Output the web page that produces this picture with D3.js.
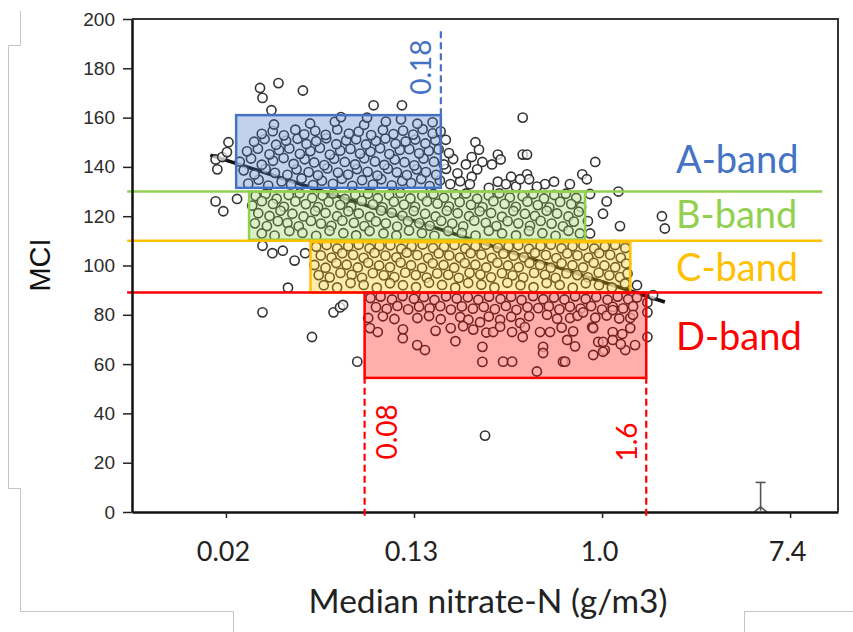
<!DOCTYPE html>
<html>
<head>
<meta charset="utf-8">
<script src="https://cdn.jsdelivr.net/npm/d3@7"></script>
<style>
  html, body { margin: 0; padding: 0; background: #fff; }
  svg { display: block; }
</style>
</head>
<body>
<svg id="chart" width="853" height="632"></svg>
<script>
// ---------------- data ----------------
const mciTicks = [0, 20, 40, 60, 80, 100, 120, 140, 160, 180, 200];
const nitrateTicks = [0.0183, 0.1353, 1.0, 7.389];
const nitrateTickLabels = ["0.02", "0.13", "1.0", "7.4"];

const bandNames = ["A-band", "B-band", "C-band", "D-band"];
const bandColors = ["#4472C4", "#92D050", "#FFC000", "#FF0000"];
// lower MCI limit of the A, B and C bands
const bandLimits = [130, 110, 89];
// extent of the bulk of sites in each band
const boxNitrateLow = [0.0204, 0.0234, 0.045, 0.08];
const boxNitrateHigh = [0.18, 0.835, 1.35, 1.6];
const boxMciLow = [131.5, 110.5, 89, 54.4];
const boxMciHigh = [161, 130, 109.5, 89];

// nitrate thresholds marked with dashed lines
const markerValues = [0.18, 0.08, 1.6];
const markerLabels = ["0.18", "0.08", "1.6"];
const markerColors = ["#4472C4", "#FF0000", "#FF0000"];
const markerMciFrom = [161, -1.5, -1.5];
const markerMciTo = [196, 54.4, 54.4];
const markerLabelMci = [180.5, 32.5, 28.4];

// fitted trend (MCI against median nitrate)
const trendNitrate = [0.0155, 1.95];
const trendMci = [144.8, 85.2];

// uncertainty bar
const errNitrate = 5.4;
const errMci = [0.5, 12];

// sites: [median nitrate-N (g/m3), MCI]
const sitesHigh = [
  [0.0232,133.2],[0.0259,134.8],[0.0287,132.4],[0.0331,134.1],[0.0366,132.9],[0.0409,135.3],[0.0462,132.6],[0.0508,134.4],[0.0571,133.1],[0.0628,135.2],[0.0702,132.3],[0.0779,134.6],[0.0874,132.8],[0.0955,135.0],[0.1068,132.5],[0.1193,134.3],[0.1312,133.4],[0.1461,135.1],[0.1597,132.2],[0.1782,134.5],[0.199,133.0],[0.221,134.2],
  [0.0221,138.6],[0.0248,136.9],[0.0279,139.2],[0.0308,137.6],[0.0352,136.8],[0.0388,139.0],[0.0441,137.9],[0.0487,136.6],[0.0538,139.4],[0.0603,137.7],[0.0671,136.9],[0.0738,139.1],[0.0826,138.0],[0.0917,136.5],[0.1024,139.3],[0.1128,137.8],[0.1254,136.7],[0.1392,139.0],[0.1536,137.9],[0.1714,136.8],[0.1903,139.2],[0.2148,137.4],
  [0.0212,142.1],[0.0239,143.4],[0.0268,140.9],[0.0302,142.5],[0.0338,143.6],[0.0376,141.2],[0.0423,143.1],[0.0468,141.8],[0.0521,140.7],[0.0579,143.3],[0.0648,142.0],[0.0723,141.0],[0.0797,143.5],[0.0893,142.2],[0.0987,140.8],[0.1102,143.0],[0.1223,141.9],[0.1358,140.6],[0.1497,143.4],[0.1672,142.1],[0.1858,141.0],[0.2052,143.2],
  [0.0229,146.3],[0.0257,147.4],[0.0291,145.1],[0.0322,146.8],[0.0359,147.5],[0.0402,145.3],[0.0449,146.4],[0.0497,147.7],[0.0553,145.0],[0.0617,146.6],[0.0688,147.3],[0.0762,145.4],[0.0851,146.2],[0.0943,147.6],[0.1041,145.2],[0.1163,146.9],[0.1287,147.2],[0.1428,145.5],[0.1583,146.5],[0.1757,147.1],[0.1962,145.6],
  [0.0247,150.2],[0.0276,151.3],[0.0312,149.0],[0.0347,150.6],[0.0392,151.4],[0.0431,149.3],[0.0478,150.4],[0.0532,151.6],[0.0592,149.2],[0.0657,150.7],[0.0731,151.2],[0.0812,149.1],[0.0902,150.5],[0.0998,151.5],[0.1112,149.4],[0.1238,150.3],[0.1371,151.1],[0.1527,149.5],[0.1698,150.8],[0.1897,151.0],
  [0.0268,153.4],[0.0301,154.5],[0.0339,152.8],[0.0383,155.1],[0.0421,153.2],[0.0473,154.6],[0.0529,153.0],[0.0598,155.2],[0.0677,153.5],[0.0751,154.3],[0.0858,152.9],[0.0972,155.0],[0.1087,153.3],[0.1204,154.7],[0.1342,153.1],[0.1483,155.3],[0.1651,153.6],[0.1795,154.4],
  [0.0305,157.2],[0.0448,157.6],[0.0583,158.3],[0.0796,157.1],[0.1003,158.4],[0.1402,157.5],[0.1648,158.1],[0.0622,160.2],[0.0821,160.0],[0.1178,159.3]
];

const sitesUpperMid = [
  [0.0251,128.2],[0.0279,129.0],[0.0314,127.1],[0.0357,128.6],[0.0401,129.3],[0.0458,127.4],[0.0512,128.4],[0.0573,129.2],[0.0648,127.0],[0.0724,128.7],[0.0829,129.1],[0.0921,127.3],[0.1038,128.5],[0.1171,129.4],[0.1302,127.2],[0.1477,128.3],[0.1663,129.0],[0.1858,127.5],[0.2104,128.8],[0.2353,129.2],[0.2647,127.1],[0.2996,128.4],[0.3352,129.3],[0.3748,127.6],[0.4296,128.1],[0.4812,129.0],[0.5393,127.2],[0.6021,128.6],[0.6804,129.1],[0.7598,127.4],
  [0.0242,124.3],[0.0268,126.1],[0.0302,125.0],[0.0339,123.8],[0.0383,126.0],[0.0428,124.9],[0.0487,123.7],[0.0546,125.8],[0.0617,124.6],[0.0693,123.9],[0.0776,126.2],[0.0874,124.8],[0.0968,123.6],[0.1092,125.9],[0.1217,124.7],[0.1368,123.8],[0.1553,126.0],[0.1738,125.1],[0.1961,123.9],[0.2198,125.7],[0.2479,124.6],[0.2803,123.7],[0.3147,126.1],[0.3546,125.0],[0.3997,123.8],[0.4518,125.9],[0.5047,124.5],[0.5703,123.6],[0.6398,125.8],[0.7204,124.9],[0.7996,123.7],
  [0.0258,121.2],[0.0291,120.1],[0.0327,122.2],[0.0371,121.0],[0.0418,119.9],[0.0473,122.1],[0.0528,121.3],[0.0597,120.0],[0.0673,122.0],[0.0752,121.1],[0.0846,119.8],[0.0953,122.3],[0.1068,121.4],[0.1196,120.2],[0.1349,122.1],[0.1522,121.0],[0.1703,119.9],[0.1918,122.2],[0.2152,121.2],[0.2431,120.0],[0.2718,122.0],[0.3072,121.3],[0.3451,119.8],[0.3893,122.1],[0.4402,121.0],[0.4897,120.1],[0.5548,122.2],[0.6197,121.1],[0.6993,119.9],[0.7801,121.8],
  [0.0249,117.1],[0.0283,116.0],[0.0318,118.0],[0.0352,117.2],[0.0397,115.9],[0.0452,118.1],[0.0503,117.0],[0.0562,116.1],[0.0631,118.2],[0.0714,117.3],[0.0798,116.0],[0.0902,117.9],[0.1003,117.1],[0.1131,115.8],[0.1268,118.0],[0.1432,117.2],[0.1601,116.1],[0.1807,118.1],[0.2032,117.0],[0.2283,115.9],[0.2568,118.2],[0.2904,117.3],[0.3251,116.0],[0.3662,118.0],[0.4103,117.1],[0.4648,116.1],[0.5202,118.1],[0.5847,117.0],[0.6598,115.9],[0.7402,117.8],
  [0.0268,113.0],[0.0307,112.1],[0.0359,114.0],[0.0413,113.2],[0.0478,112.0],[0.0551,114.1],[0.0638,113.1],[0.0731,112.2],[0.0843,114.0],[0.0978,113.0],[0.1121,112.1],[0.1283,114.2],[0.1472,113.1],[0.1681,112.0],[0.1948,114.0],[0.2251,113.2],[0.2603,112.1],[0.2998,114.1],[0.3452,113.0],[0.4003,112.2],[0.4597,114.0],[0.5302,113.1],[0.6098,112.0],[0.6997,114.1],[0.7903,113.0]
];

const sitesLowerMid = [
  [0.0478,107.6],[0.0534,108.3],[0.0598,106.9],[0.0672,107.8],[0.0751,108.4],[0.0843,107.0],[0.0938,107.9],[0.1052,108.2],[0.1181,106.8],[0.1318,107.7],[0.1483,108.5],[0.1657,107.1],[0.1862,107.6],[0.2081,108.3],[0.2332,106.9],[0.2603,107.8],[0.2902,108.4],[0.3301,107.2],[0.3698,107.7],[0.4102,108.2],[0.4603,106.8],[0.5198,107.9],[0.5802,108.4],[0.6497,107.0],[0.7303,107.8],[0.8201,108.1],[0.9198,106.9],[1.0302,107.7],[1.1497,108.3],[1.2803,107.1],
  [0.0502,104.1],[0.0563,103.2],[0.0631,105.0],[0.0708,104.3],[0.0792,103.1],[0.0889,105.1],[0.0998,104.0],[0.1121,103.3],[0.1253,105.2],[0.1402,104.2],[0.1571,103.0],[0.1759,104.9],[0.1968,104.1],[0.2203,103.2],[0.2472,105.0],[0.2769,104.4],[0.3098,103.1],[0.3502,104.8],[0.3903,104.0],[0.4352,103.3],[0.4897,105.1],[0.5503,104.2],[0.6148,103.0],[0.6902,104.9],[0.7702,104.1],[0.8648,103.2],[0.9702,105.0],[1.0903,104.3],[1.2198,103.1],
  [0.0469,100.2],[0.0528,99.1],[0.0592,101.0],[0.0661,100.3],[0.0744,99.2],[0.0831,101.1],[0.0934,100.0],[0.1048,99.3],[0.1173,101.2],[0.1311,100.1],[0.1474,99.0],[0.1652,100.9],[0.1853,100.2],[0.2074,99.1],[0.2321,101.0],[0.2598,100.3],[0.2917,99.2],[0.3282,101.1],[0.3678,100.0],[0.4121,99.3],[0.4618,101.0],[0.5173,100.2],[0.5797,99.1],[0.6503,100.9],[0.7297,100.1],[0.8173,99.2],[0.9148,101.1],[1.0253,100.0],[1.1502,99.3],[1.2902,100.8],
  [0.0491,96.1],[0.0552,95.2],[0.0619,97.0],[0.0697,96.2],[0.0778,95.0],[0.0873,96.9],[0.0981,96.0],[0.1098,95.3],[0.1232,97.1],[0.1379,96.1],[0.1548,95.1],[0.1732,96.8],[0.1947,96.2],[0.2178,95.0],[0.2443,97.0],[0.2741,96.3],[0.3072,95.2],[0.3447,96.9],[0.3862,96.0],[0.4321,95.1],[0.4853,97.0],[0.5447,96.2],[0.6103,95.0],[0.6847,96.8],[0.7681,96.1],[0.8603,95.2],[0.9648,97.1],[1.0802,96.0],[1.2103,95.3],[1.3102,96.7],
  [0.0518,92.0],[0.0597,91.1],[0.0689,92.9],[0.0792,92.1],[0.0911,91.0],[0.1048,92.8],[0.1203,92.0],[0.1382,91.2],[0.1587,93.0],[0.1823,92.1],[0.2097,91.0],[0.2408,92.9],[0.2768,92.2],[0.3182,91.1],[0.3653,93.0],[0.4198,92.0],[0.4823,91.2],[0.5547,92.9],[0.6373,92.1],[0.7321,91.0],[0.8412,92.8],[0.9673,92.0],[1.1102,91.1],[1.2753,92.7]
];

const sitesLow = [
  [0.0851,86.8],[0.0948,87.4],[0.1071,86.2],[0.1198,87.6],[0.1352,86.5],[0.1503,87.2],[0.1682,86.0],[0.1903,87.5],[0.2131,86.6],[0.2398,87.1],[0.2681,86.1],[0.3003,87.4],[0.3397,86.4],[0.3801,87.3],[0.4248,86.0],[0.4802,87.6],[0.5351,86.3],[0.5998,87.0],[0.6702,86.2],[0.7503,87.5],[0.8402,86.4],[0.9401,87.2],[1.0597,86.1],[1.1803,87.4],[1.3202,86.3],[1.4503,87.0],
  [0.0903,83.1],[0.1012,82.4],[0.1134,83.6],[0.1271,82.2],[0.1427,83.3],[0.1598,82.6],[0.1789,83.5],[0.2003,82.1],[0.2251,83.4],[0.2532,82.5],[0.2843,83.2],[0.3198,82.3],[0.3597,83.6],[0.4023,82.0],[0.4523,83.1],[0.5073,82.7],[0.5677,83.4],[0.6352,82.2],[0.7103,83.3],[0.7953,82.5],[0.8902,83.5],[0.9998,82.1],[1.1203,83.2],[1.2502,82.6],[1.3903,83.4],
  [0.0831,78.7],[0.0972,79.4],[0.1098,78.3],[0.1402,78.7],[0.1587,79.5],[0.1798,78.2],[0.2212,79.1],[0.2412,78.0],[0.2731,77.0],[0.2998,79.3],[0.3381,78.0],[0.3803,79.2],[0.4183,76.7],[0.4602,79.4],[0.5571,80.0],[0.6203,78.4],[0.7121,78.7],[0.7702,79.6],[0.8172,81.0],[0.9303,78.8],[1.0503,79.7],[1.1203,81.9],[1.2003,78.5],[1.3502,78.7],[1.39,80.0],
  [0.0847,74.6],[0.092,73.0],[0.1203,74.1],[0.1702,73.5],[0.2,74.6],[0.2281,75.4],[0.254,74.0],[0.2921,72.8],[0.314,73.0],[0.338,75.2],[0.384,73.0],[0.44,75.0],[0.43,71.0],[0.517,73.0],[0.575,73.0],[0.6503,74.8],[0.7353,73.3],[0.9,75.0],[0.91,74.6],[1.12,73.0],[1.35,74.6],[1.2403,72.2],
  [0.14,67.7],[0.152,65.7],[0.28,67.0],[0.28,60.9],[0.349,61.0],[0.384,61.0],[0.50,57.0],[0.66,61.0],[0.534,67.0],[0.534,64.5],[0.69,69.8],[0.91,63.7],[1.03,65.7],[1.28,65.7],[1.42,67.7],[0.96,69.0],[1.12,69.8],[0.675,61.0],[1.01,69.0],[1.01,65.0],[0.2102,69.3],[0.1201,70.5],[0.75,67.2],[1.22,68.1]
];

const sitesScattered = [
  [0.0164,143],[0.0167,139],[0.0176,144],[0.0185,146],[0.0188,150],
  [0.0263,172],[0.027,168],[0.032,174],[0.0415,171],[0.0297,163],[0.088,165],[0.119,165],
  [0.43,160],[0.26,150],[0.27,147],[0.25,144],[0.28,142],[0.33,145],[0.34,143],[0.31,141],[0.43,145],[0.45,145],[0.45,137],[0.46,135],[0.25,136],[0.265,139],[0.93,142],[0.81,137],[0.85,135],[0.545,133],[0.71,133],[0.33,134],[0.36,133],[0.40,132],[0.235,141],[0.245,133],[0.418,135],[0.5,132],[0.6,134],[0.3,131.5],[0.38,136],
  [1.19,130],[1.05,126],[1.01,121],[1.21,116],[1.89,120],[1.95,115],[0.88,129],[0.86,118],[0.88,113],[0.0164,126],[0.0178,122],[0.0206,127],
  [0.027,108],[0.03,105],[0.0335,106],[0.0425,105],[0.0354,91],[0.038,102],[1.45,92],[1.72,88],
  [0.0457,71],[0.0575,81],[0.0616,83],[0.0636,84],[0.074,61],[0.027,81],[1.62,85],[1.62,81],[1.62,71],[0.288,31]
];

// ---------------- layout ----------------
const plot = { left: 132, top: 19, right: 838, bottom: 512 };
const nitrateDomain = [0.006738, 12.3];
const mciDomain = [0, 200];
const bandLineNitrate = [0.0064, 10.4];
const bandLabelX = 676;
const bandLabelY = [173, 228, 281, 350];
const markerLabelOffset = [-10, 32, -9];

const svg = d3.select("#chart");
const x = d3.scaleLog().domain(nitrateDomain).range([plot.left, plot.right]);
const y = d3.scaleLinear().domain(mciDomain).range([plot.bottom, plot.top]);

// light page guide lines around the figure
const frame = svg.append("g").attr("fill", "none").attr("stroke", "#c4c4c4").attr("stroke-width", 1);
frame.append("path").attr("d", "M20.5,11V45.5H8.5V488.5H20.5V611.5H233.5V632");
frame.append("path").attr("d", "M853,611.5H744.5V632");

// trend line, drawn first so the site markers partly veil it
svg.append("path")
  .datum(trendNitrate.map((n, i) => [n, trendMci[i]]))
  .attr("d", d3.line().x(d => x(d[0])).y(d => y(d[1])))
  .attr("stroke", "#111")
  .attr("stroke-width", 3.5)
  .attr("fill", "none");

// site markers
const sites = [].concat(sitesHigh, sitesUpperMid, sitesLowerMid, sitesLow, sitesScattered);
svg.append("g")
  .selectAll("circle")
  .data(sites)
  .join("circle")
  .attr("cx", d => x(d[0]))
  .attr("cy", d => y(d[1]))
  .attr("r", 4.6)
  .attr("fill", "#fff")
  .attr("fill-opacity", 0.7)
  .attr("stroke", "#333")
  .attr("stroke-width", 1.6);

// uncertainty bar
const eb = svg.append("g").attr("stroke", "#555").attr("stroke-width", 1.6).attr("fill", "none");
eb.append("line").attr("x1", x(errNitrate)).attr("x2", x(errNitrate)).attr("y1", y(errMci[0])).attr("y2", y(errMci[1]));
eb.append("line").attr("x1", x(errNitrate) - 5).attr("x2", x(errNitrate) + 5).attr("y1", y(errMci[1])).attr("y2", y(errMci[1]));
eb.append("path").attr("d", `M${x(errNitrate) - 6},${y(errMci[0]) + 1}L${x(errNitrate)},${y(errMci[0]) - 4}L${x(errNitrate) + 6},${y(errMci[0]) + 1}`);

// band boxes
const boxes = bandNames.map((name, i) => ({
  color: bandColors[i],
  x0: boxNitrateLow[i], x1: boxNitrateHigh[i],
  y0: boxMciLow[i], y1: boxMciHigh[i]
}));
svg.append("g")
  .selectAll("rect")
  .data(boxes)
  .join("rect")
  .attr("x", d => x(d.x0))
  .attr("y", d => y(d.y1))
  .attr("width", d => x(d.x1) - x(d.x0))
  .attr("height", d => y(d.y0) - y(d.y1))
  .attr("fill", d => d.color)
  .attr("fill-opacity", 0.32)
  .attr("stroke", d => d.color)
  .attr("stroke-width", 2.5);

// band limit lines
svg.append("g")
  .selectAll("line")
  .data(bandLimits)
  .join("line")
  .attr("x1", x(bandLineNitrate[0]))
  .attr("x2", x(bandLineNitrate[1]))
  .attr("y1", d => y(d))
  .attr("y2", d => y(d))
  .attr("stroke", (d, i) => bandColors[i + 1])
  .attr("stroke-width", 2.5);

// axes
const yAxis = d3.axisLeft(y).tickValues(mciTicks).tickSize(9).tickSizeOuter(0).tickPadding(8);
const gy = svg.append("g").attr("transform", `translate(${plot.left},0)`).call(yAxis);
gy.select(".domain").attr("stroke", "#111").attr("stroke-width", 2.5);
gy.selectAll(".tick line").attr("stroke", "#222").attr("stroke-width", 1.5);
gy.selectAll(".tick text")
  .attr("font-family", "'Liberation Sans', Arial, sans-serif")
  .attr("font-size", 19)
  .attr("fill", "#2b2b2b");

const xAxis = d3.axisBottom(x)
  .tickValues(nitrateTicks)
  .tickFormat((d, i) => nitrateTickLabels[i])
  .tickSize(6)
  .tickSizeOuter(0);
const gx = svg.append("g").attr("transform", `translate(0,${plot.bottom})`).call(xAxis);
gx.select(".domain").attr("stroke", "#111").attr("stroke-width", 2.5);
gx.selectAll(".tick line").attr("stroke", "#222").attr("stroke-width", 1.5);
gx.selectAll(".tick text")
  .attr("y", 30)
  .attr("dx", -3)
  .attr("font-family", "Lato, 'Open Sans', sans-serif")
  .attr("font-size", 27)
  .attr("fill", "#222");

// top and right frame of the plot
svg.append("path")
  .attr("d", `M${plot.left},${plot.top}H${plot.right}V${plot.bottom}`)
  .attr("fill", "none")
  .attr("stroke", "#333")
  .attr("stroke-width", 2);

// dashed nitrate thresholds
markerValues.forEach((v, i) => {
  svg.append("line")
    .attr("x1", x(v)).attr("x2", x(v))
    .attr("y1", y(markerMciFrom[i])).attr("y2", y(markerMciTo[i]))
    .attr("stroke", markerColors[i])
    .attr("stroke-width", 2.2)
    .attr("stroke-dasharray", "7,4");
  const lx = x(v) + markerLabelOffset[i];
  const ly = y(markerLabelMci[i]);
  svg.append("text")
    .attr("transform", `translate(${lx},${ly}) rotate(-90)`)
    .attr("text-anchor", "middle")
    .attr("font-family", "Lato, 'Open Sans', sans-serif")
    .attr("font-size", 28)
    .attr("fill", markerColors[i])
    .text(markerLabels[i]);
});

// band labels
svg.append("g")
  .selectAll("text")
  .data(bandNames)
  .join("text")
  .attr("x", bandLabelX)
  .attr("y", (d, i) => bandLabelY[i])
  .attr("font-family", "Lato, 'Open Sans', sans-serif")
  .attr("font-size", 38)
  .attr("fill", (d, i) => bandColors[i])
  .text(d => d);

// axis titles
svg.append("text")
  .attr("transform", `translate(50,265) rotate(-90)`)
  .attr("text-anchor", "middle")
  .attr("font-family", "'Liberation Sans', Arial, sans-serif")
  .attr("font-size", 29)
  .attr("fill", "#111")
  .text("MCI");

svg.append("text")
  .attr("x", 488)
  .attr("y", 613)
  .attr("text-anchor", "middle")
  .attr("font-family", "Lato, 'Open Sans', sans-serif")
  .attr("font-size", 33.5)
  .attr("fill", "#222")
  .text("Median nitrate-N (g/m3)");
</script>
</body>
</html>
